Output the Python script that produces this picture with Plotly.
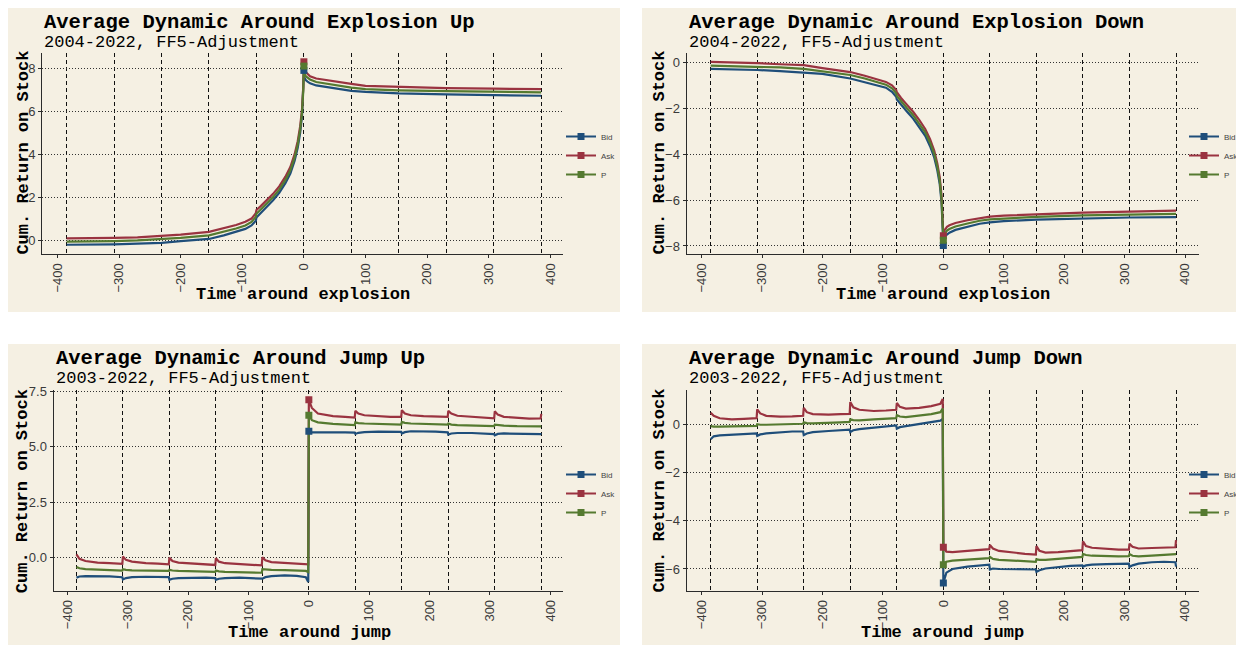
import plotly.graph_objects as go

OFF = 8  # page body margin
W, H = 1244 - OFF, 645 - OFF

# ---------------- data ----------------
series_names = ["Bid", "Ask", "P"]
series_colors = ["#1F4E7A", "#9A3340", "#557A30"]

x_tick_vals = [-400, -300, -200, -100, 0, 100, 200, 300, 400]
day_breaks = [-385, -308, -231, -154, -77, 0, 77, 154, 231, 308, 385]

expl_time = [-385, -350, -308, -270, -231, -200, -154, -130, -110, -95, -85, -78, -77, -70,
             -60, -50, -40, -30, -22, -15, -10, -6, -3, -1, 0, 1, 3, 6, 10, 20, 40, 60, 77,
             100, 154, 231, 308, 385]

expl_up_bid = [-0.22, -0.22, -0.20, -0.17, -0.13, -0.05, 0.05, 0.22, 0.38, 0.52, 0.68, 0.90, 1.05, 1.25,
               1.55, 1.85, 2.20, 2.65, 3.10, 3.70, 4.30, 5.00, 5.80, 6.80, 7.90, 7.55, 7.45, 7.38, 7.30,
               7.20, 7.10, 7.02, 6.95, 6.90, 6.83, 6.78, 6.75, 6.72]
expl_up_ask = [0.08, 0.08, 0.10, 0.12, 0.20, 0.25, 0.38, 0.55, 0.70, 0.85, 1.00, 1.25, 1.40, 1.58,
               1.85, 2.15, 2.50, 2.95, 3.40, 4.00, 4.60, 5.30, 6.10, 7.10, 8.30, 7.95, 7.82, 7.72, 7.63,
               7.52, 7.42, 7.33, 7.27, 7.18, 7.12, 7.07, 7.05, 7.03]
expl_up_p = [-0.07, -0.07, -0.05, -0.02, 0.03, 0.10, 0.22, 0.38, 0.54, 0.68, 0.84, 1.08, 1.22, 1.42,
             1.70, 2.00, 2.35, 2.80, 3.25, 3.85, 4.45, 5.15, 5.95, 6.95, 8.10, 7.75, 7.63, 7.55, 7.47,
             7.36, 7.26, 7.17, 7.10, 7.03, 6.97, 6.93, 6.90, 6.88]

expl_down_bid = [-0.28, -0.30, -0.33, -0.38, -0.43, -0.50, -0.70, -0.85, -0.98, -1.10, -1.28, -1.50, -1.62, -1.85,
                 -2.15, -2.45, -2.80, -3.20, -3.65, -4.15, -4.70, -5.30, -6.10, -7.00, -7.98, -7.70, -7.58, -7.50,
                 -7.42, -7.30, -7.15, -7.03, -6.97, -6.92, -6.85, -6.80, -6.76, -6.74]
expl_down_ask = [0.02, 0.00, -0.03, -0.08, -0.12, -0.25, -0.42, -0.58, -0.72, -0.85, -1.00, -1.20, -1.30, -1.55,
                 -1.85, -2.15, -2.50, -2.90, -3.35, -3.85, -4.40, -5.00, -5.80, -6.70, -7.55, -7.35, -7.25, -7.17,
                 -7.10, -7.00, -6.88, -6.78, -6.72, -6.68, -6.62, -6.55, -6.50, -6.46]
expl_down_p = [-0.14, -0.16, -0.18, -0.22, -0.28, -0.38, -0.55, -0.70, -0.84, -0.97, -1.13, -1.35, -1.46, -1.70,
               -2.00, -2.30, -2.65, -3.05, -3.50, -4.00, -4.55, -5.15, -5.95, -6.85, -7.75, -7.52, -7.42, -7.33,
               -7.26, -7.15, -7.02, -6.90, -6.84, -6.80, -6.73, -6.67, -6.63, -6.60]

jump_time = [-385, -380, -370, -350, -330, -309,
             -308, -303, -293, -270, -250, -232,
             -231, -226, -216, -190, -170, -155,
             -154, -149, -139, -115, -95, -78,
             -77, -72, -62, -40, -20, -5, -1, 0,
             5, 15, 40, 60, 76,
             77, 82, 92, 115, 135, 153,
             154, 159, 169, 190, 210, 230,
             231, 236, 246, 270, 290, 307,
             308, 313, 323, 345, 365, 384, 385]

jump_up_bid = [-0.90, -0.85, -0.83, -0.82, -0.84, -0.88,
               -0.98, -0.92, -0.88, -0.86, -0.86, -0.88,
               -1.00, -0.95, -0.92, -0.90, -0.90, -0.92,
               -1.00, -0.95, -0.92, -0.90, -0.92, -0.95,
               -0.95, -0.88, -0.83, -0.80, -0.82, -0.88, -1.10, 5.70,
               5.65, 5.65, 5.66, 5.65, 5.64,
               5.58, 5.63, 5.66, 5.68, 5.68, 5.67,
               5.60, 5.66, 5.70, 5.70, 5.68, 5.65,
               5.55, 5.60, 5.62, 5.62, 5.60, 5.57,
               5.52, 5.58, 5.60, 5.60, 5.58, 5.57, 5.55]
jump_up_ask = [0.15, -0.05, -0.15, -0.22, -0.25, -0.28,
               0.05, -0.10, -0.18, -0.25, -0.27, -0.30,
               0.00, -0.15, -0.22, -0.28, -0.30, -0.33,
               -0.02, -0.18, -0.25, -0.30, -0.33, -0.35,
               0.02, -0.12, -0.20, -0.24, -0.26, -0.28, -0.30, 7.12,
               6.75, 6.50, 6.38, 6.35, 6.32,
               6.62, 6.50, 6.42, 6.38, 6.35, 6.35,
               6.65, 6.50, 6.42, 6.38, 6.36, 6.35,
               6.62, 6.50, 6.40, 6.35, 6.32, 6.28,
               6.60, 6.45, 6.35, 6.30, 6.27, 6.28, 6.48]
jump_up_p = [-0.42, -0.48, -0.52, -0.55, -0.56, -0.58,
             -0.52, -0.55, -0.57, -0.58, -0.58, -0.60,
             -0.55, -0.58, -0.60, -0.62, -0.63, -0.64,
             -0.58, -0.62, -0.64, -0.66, -0.67, -0.68,
             -0.52, -0.54, -0.55, -0.56, -0.57, -0.60, -0.65, 6.42,
             6.20, 6.10, 6.03, 6.00, 5.98,
             6.10, 6.07, 6.05, 6.03, 6.02, 6.00,
             6.12, 6.08, 6.05, 6.03, 6.02, 6.00,
             6.05, 6.00, 5.98, 5.96, 5.95, 5.93,
             6.00, 5.98, 5.95, 5.93, 5.92, 5.90, 5.92]

jump_down_bid = [-0.62, -0.50, -0.46, -0.43, -0.40, -0.38,
                 -0.48, -0.42, -0.38, -0.33, -0.30, -0.30,
                 -0.45, -0.38, -0.33, -0.28, -0.25, -0.22,
                 -0.32, -0.25, -0.20, -0.15, -0.10, -0.05,
                 -0.18, -0.12, -0.08, 0.00, 0.08, 0.15, 0.22, -6.58,
                 -6.15, -6.00, -5.90, -5.85, -5.82,
                 -6.02, -5.98, -6.00, -6.00, -6.00, -6.02,
                 -6.12, -6.05, -5.98, -5.92, -5.87, -5.85,
                 -5.90, -5.85, -5.82, -5.80, -5.78, -5.78,
                 -5.92, -5.85, -5.78, -5.72, -5.70, -5.72, -5.90]
jump_down_ask = [0.48, 0.35, 0.25, 0.20, 0.22, 0.25,
                 0.62, 0.45, 0.35, 0.32, 0.33, 0.35,
                 0.68, 0.50, 0.42, 0.40, 0.42, 0.43,
                 0.92, 0.70, 0.60, 0.55, 0.57, 0.60,
                 0.88, 0.72, 0.65, 0.68, 0.75, 0.85, 1.05, -5.10,
                 -5.28, -5.30, -5.25, -5.20, -5.18,
                 -5.00, -5.15, -5.25, -5.32, -5.37, -5.40,
                 -5.05, -5.25, -5.32, -5.30, -5.25, -5.22,
                 -4.85, -5.05, -5.12, -5.18, -5.20, -5.20,
                 -4.95, -5.08, -5.15, -5.13, -5.12, -5.10, -4.80]
jump_down_p = [-0.08, -0.10, -0.10, -0.10, -0.08, -0.07,
               0.00, -0.02, -0.02, -0.01, 0.00, 0.02,
               0.08, 0.05, 0.04, 0.05, 0.08, 0.10,
               0.20, 0.17, 0.16, 0.20, 0.23, 0.25,
               0.38, 0.32, 0.30, 0.35, 0.42, 0.50, 0.65, -5.82,
               -5.70, -5.65, -5.60, -5.57, -5.55,
               -5.50, -5.58, -5.62, -5.65, -5.68, -5.70,
               -5.60, -5.62, -5.62, -5.58, -5.53, -5.50,
               -5.38, -5.42, -5.45, -5.48, -5.48, -5.47,
               -5.38, -5.45, -5.48, -5.45, -5.42, -5.40, -5.38]

titles = ["Average Dynamic Around Explosion Up", "Average Dynamic Around Explosion Down",
          "Average Dynamic Around Jump Up", "Average Dynamic Around Jump Down"]
subtitles = ["2004-2022, FF5-Adjustment", "2004-2022, FF5-Adjustment",
             "2003-2022, FF5-Adjustment", "2003-2022, FF5-Adjustment"]
x_titles = ["Time around explosion", "Time around explosion", "Time around jump", "Time around jump"]
y_title = "Cum. Return on Stock"

panel_data = [
    (expl_time, [expl_up_bid, expl_up_ask, expl_up_p]),
    (expl_time, [expl_down_bid, expl_down_ask, expl_down_p]),
    (jump_time, [jump_up_bid, jump_up_ask, jump_up_p]),
    (jump_time, [jump_down_bid, jump_down_ask, jump_down_p]),
]
y_tick_vals = [[0, 2, 4, 6, 8], [-8, -6, -4, -2, 0], [0, 2.5, 5, 7.5], [-6, -4, -2, 0]]
y_tick_fmt = ["d", "d", ".1f", "d"]

# ---------------- layout geometry (page pixels) ----------------
areas = [(42, 563, 53, 254), (686.5, 1199, 53, 254), (53.5, 563, 390, 590.7), (686.5, 1199, 390, 590.7)]
x_ranges = [[-425, 420.5], [-425, 423], [-423, 421], [-425, 423]]
y_ranges = [[-0.65, 8.71], [-8.35, 0.41], [-1.49, 7.56], [-6.9, 1.42]]
bg_boxes = [(7, 620, 7, 312), (642, 1244, 7, 312), (7, 620, 344, 645), (642, 1244, 344, 645)]
title_pos = [(42, 22, 42), (686.5, 22, 42), (53.5, 359, 378), (686.5, 359, 378)]
xtitle_pos = [(302.5, 295), (942.7, 295), (309, 632), (942.8, 632)]
ytitle_pos = [(22.6, 153), (658.6, 153), (22.2, 491), (658.6, 491)]
# (x, y, xanchor)
legend_pos = [(561, 122, "left"), (1244, 122, "right"), (561, 460, "left"), (1244, 460, "right")]

BG = "#F5F0E3"
INK = "#2b2b2b"
MONO = "Liberation Mono, Courier New, monospace"
SANS = "Liberation Sans, Arial, sans-serif"


def fx(px):
    return (px - OFF) / W


def fy(py):
    return 1 - (py - OFF) / H


fig = go.Figure()
layout = dict(
    width=W, height=H,
    margin=dict(l=0, r=0, t=0, b=0, autoexpand=False),
    paper_bgcolor="white",
    plot_bgcolor="rgba(0,0,0,0)",
    shapes=[], annotations=[],
)

for i in range(4):
    n = "" if i == 0 else str(i + 1)
    xa, ya = "x" + n, "y" + n
    leg = "legend" + n
    t, ys = panel_data[i]
    for name, col, yv in zip(series_names, series_colors, ys):
        fig.add_trace(go.Scatter(x=t, y=yv, mode="lines", line=dict(color=col, width=2.2),
                                 xaxis=xa, yaxis=ya, showlegend=False, legendgroup=name + n,
                                 hoverinfo="skip"))
    for name, col, yv in zip(series_names, series_colors, ys):
        k = t.index(0)
        fig.add_trace(go.Scatter(x=[t[k]], y=[yv[k]], mode="lines+markers", name=name,
                                 line=dict(color=col, width=2),
                                 marker=dict(symbol="square", size=7, color=col),
                                 xaxis=xa, yaxis=ya, legend=leg, legendgroup=name + n))
    l, r, tp, b = areas[i]
    layout["xaxis" + n] = dict(
        domain=[fx(l), fx(r)], anchor=ya, range=x_ranges[i],
        tickmode="array", tickvals=x_tick_vals, tickangle=-90,
        tickfont=dict(family=SANS, size=13, color="#3a3a3a"),
        showline=True, linecolor=INK, linewidth=1,
        ticks="outside", ticklen=3, tickcolor=INK,
        showgrid=False, zeroline=False,
        minor=dict(tickmode="array", tickvals=day_breaks, showgrid=True, gridcolor="#111111",
                   gridwidth=1, griddash="4px,3px", ticks=""),
    )
    layout["yaxis" + n] = dict(
        domain=[fy(b), fy(tp)], anchor=xa, range=y_ranges[i],
        tickmode="array", tickvals=y_tick_vals[i], tickformat=y_tick_fmt[i],
        tickfont=dict(family=SANS, size=13, color="#3a3a3a"),
        showline=True, linecolor=INK, linewidth=1,
        ticks="outside", ticklen=3, tickcolor=INK,
        showgrid=True, gridcolor="#333333", gridwidth=1, griddash="1px,2px", zeroline=False,
    )
    lx, ly, lanchor = legend_pos[i]
    layout[leg] = dict(x=fx(lx), y=fy(ly), xanchor=lanchor, yanchor="top", xref="paper", yref="paper",
                       bgcolor="rgba(0,0,0,0)", font=dict(family=SANS, size=8, color="#444444"),
                       tracegroupgap=0)
    x0, x1, y0, y1 = bg_boxes[i]
    layout["shapes"].append(dict(type="rect", xref="paper", yref="paper", x0=fx(x0), x1=fx(x1),
                                 y0=fy(y1), y1=fy(y0), fillcolor=BG, line=dict(width=0), layer="below"))
    tx, ty, sy = title_pos[i]
    layout["annotations"].append(dict(text="<b>" + titles[i] + "</b>", xref="paper", yref="paper",
                                      x=fx(tx), y=fy(ty), xanchor="left", yanchor="middle", showarrow=False,
                                      font=dict(family=MONO, size=20.5, color="black")))
    layout["annotations"].append(dict(text=subtitles[i], xref="paper", yref="paper",
                                      x=fx(tx), y=fy(sy), xanchor="left", yanchor="middle", showarrow=False,
                                      font=dict(family=MONO, size=17, color="black")))
    ax, ay = xtitle_pos[i]
    layout["annotations"].append(dict(text="<b>" + x_titles[i] + "</b>", xref="paper", yref="paper",
                                      x=fx(ax), y=fy(ay), xanchor="center", yanchor="middle", showarrow=False,
                                      font=dict(family=MONO, size=17, color="black")))
    bx, by = ytitle_pos[i]
    layout["annotations"].append(dict(text="<b>" + y_title + "</b>", xref="paper", yref="paper",
                                      x=fx(bx), y=fy(by), xanchor="center", yanchor="middle", showarrow=False,
                                      textangle=-90, font=dict(family=MONO, size=17, color="black")))

fig.update_layout(**layout)
fig.write_html("out.html")
